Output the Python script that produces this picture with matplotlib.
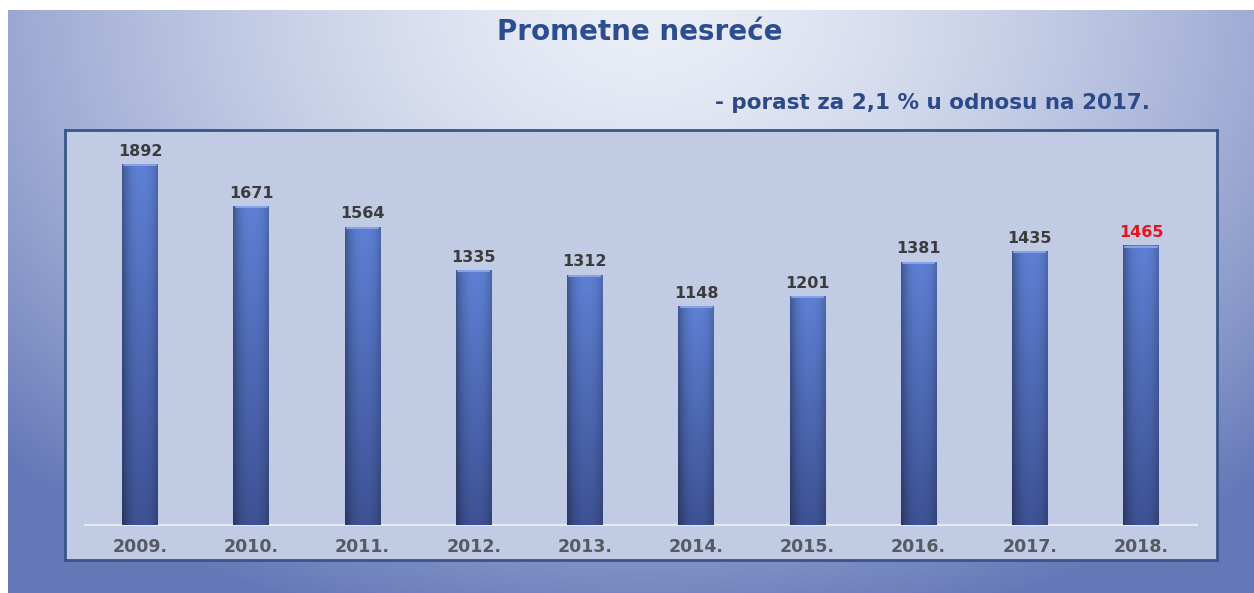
import numpy as np
import matplotlib
matplotlib.use("Agg")
import matplotlib.pyplot as plt

years = ["2009.", "2010.", "2011.", "2012.", "2013.", "2014.", "2015.", "2016.", "2017.", "2018."]
values = [1892, 1671, 1564, 1335, 1312, 1148, 1201, 1381, 1435, 1465]
label_colors = ["#3c3c3c"] * 9 + ["#e8141c"]
title = "Prometne nesreće"
subtitle = "- porast za 2,1 % u odnosu na 2017."

W, H = 1254, 593
fig = plt.figure(figsize=(W / 100, H / 100), dpi=100)
fig.patch.set_facecolor("white")

# background radial gradient
bg = fig.add_axes([8 / W, 0, (W - 8) / W, (H - 10) / H])
bg.set_axis_off()
ny, nx = 300, 600
yy, xx = np.mgrid[0:ny, 0:nx]
cx, cy = nx * 0.51, ny * 0.0
r = np.sqrt(((xx - cx) / (nx * 0.72)) ** 2 + ((yy - cy) / (ny * 1.1)) ** 2)
r = np.clip(r, 0, 1)[..., None]
c_in = np.array([234, 238, 247]) / 255
c_out = np.array([100, 120, 184]) / 255
t = r ** 1.5
img = c_in * (1 - t) + c_out * t
bg.imshow(img, aspect="auto", extent=[0, 1, 0, 1], origin="upper")
bg.set_xlim(0, 1)
bg.set_ylim(0, 1)

# chart box
ax = fig.add_axes([65 / W, (H - 560) / H, (1217 - 65) / W, (560 - 130) / H])
ax.set_facecolor("#c1cbe3")
for s in ax.spines.values():
    s.set_color("#3a5588")
    s.set_linewidth(2)

x = np.arange(len(years))
bars = ax.bar(x, values, width=0.32, color="#4d69b8", zorder=2)
ax.set_xlim(-0.674, len(years) - 1 + 0.683)
ax.set_ylim(-183, 2070)

# gradient fill for each bar
gh, gw = 100, 40
vy = np.linspace(0, 1, gh)[:, None, None]
top = np.array([94, 128, 212]) / 255
bot = np.array([62, 82, 148]) / 255
vert = top * (1 - vy) + bot * vy
hx = np.linspace(-1, 1, gw)
hprof = 1 - 0.25 * np.abs(hx - 0.1) ** 2.5
grad = vert * hprof[None, :, None]
grad = np.clip(grad, 0, 1)
for b in bars:
    x0 = b.get_x()
    im = ax.imshow(grad, extent=[x0, x0 + b.get_width(), 0, b.get_height()],
                   aspect="auto", origin="upper", zorder=3)
    im.set_clip_path(b)
    ax.plot([x0 + 0.02, x0 + b.get_width() - 0.02], [b.get_height() - 6] * 2,
            color="#86a2e6", lw=1.5, zorder=4, solid_capstyle="round")

ax.axhline(0, xmin=0.017, xmax=0.983, color="#e4e9f3", lw=1.5, zorder=1)

for b, v, c in zip(bars, values, label_colors):
    ax.text(b.get_x() + b.get_width() / 2, v + 28, str(v), ha="center", va="bottom",
            fontsize=11.5, fontweight="bold", color=c, family="DejaVu Sans", zorder=5)

ax.set_xticks(x)
ax.set_xticklabels(years, fontsize=12.5, fontweight="bold", color="#555a63")
ax.tick_params(axis="x", length=0, pad=-16)
ax.set_yticks([])
ax.set_ylim(-183, 2070)

fig.text(640 / W, 1 - 32 / H, title, ha="center", va="center", fontsize=20,
         fontweight="bold", color="#2c4e90")
fig.text(1150 / W, 1 - 103 / H, subtitle, ha="right", va="center", fontsize=15.5,
         fontweight="bold", color="#2c4a8a")

fig.savefig("out.png", dpi=100)
